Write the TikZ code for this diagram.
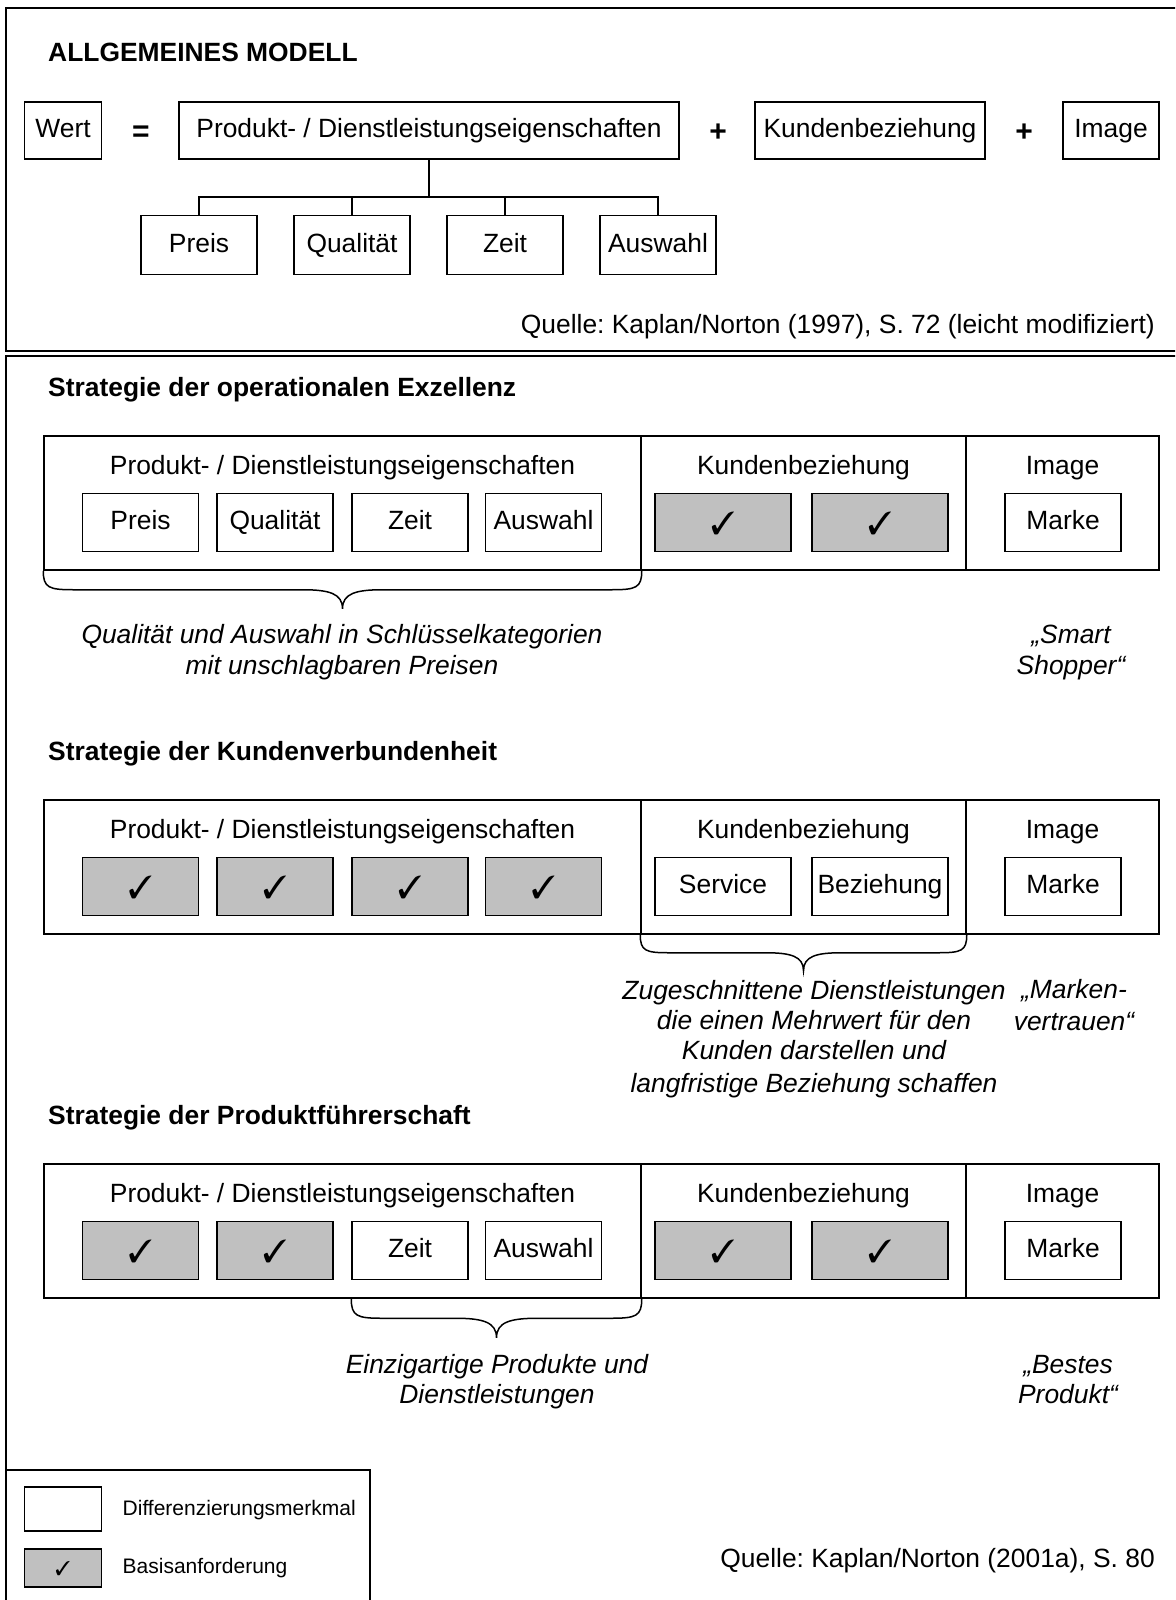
\documentclass[tikz,border=0pt]{standalone}
\usepackage{fontspec}
\usepackage{pifont}
\setmainfont{Liberation Sans}
\usetikzlibrary{calc}
\frenchspacing

\definecolor{basisgray}{RGB}{192,192,192}
\newcommand\bodysize{\fontsize{26.4}{31.5}\selectfont}
\newcommand\legendsize{\fontsize{21}{25}\selectfont}
\newcommand\tick{{\fontsize{32}{32}\selectfont\ding{51}}}
\newcommand\smalltick{{\fontsize{20}{20}\selectfont\ding{51}}}

% curly brace hanging below a horizontal edge: #1 left end, #2 right end, #3 depth
\newcommand\curlybrace[3]{%
  \draw[ln] let \p1=(#1), \p2=(#2), \p3=($(#1)!0.5!(#2)$) in
    (\p1) .. controls (\x1,\y1-0.45*#3) and (\x1+0.15*#3,\y1-0.5*#3) .. (\x1+0.8*#3,\y1-0.5*#3)
    -- (\x3-1.05*#3,\y1-0.5*#3)
    .. controls (\x3-0.35*#3,\y1-0.5*#3) and (\x3,\y1-0.6*#3) .. (\x3,\y1-#3)
    .. controls (\x3,\y1-0.6*#3) and (\x3+0.35*#3,\y1-0.5*#3) .. (\x3+1.05*#3,\y1-0.5*#3)
    -- (\x2-0.8*#3,\y1-0.5*#3)
    .. controls (\x2-0.15*#3,\y1-0.5*#3) and (\x2,\y1-0.45*#3) .. (\p2);
}

\tikzset{
  every node/.style={font=\bodysize, inner sep=0pt},
  ln/.style={line width=1.5pt},
  cell/.style={draw, ln, fill=white, minimum height=58pt, text height=19pt, text depth=5pt},
  gcell/.style={cell, fill=basisgray, text height=23pt, text depth=0pt},
  colbox/.style={draw, ln, minimum height=134pt},
  heading/.style={font=\bodysize\bfseries, anchor=base west},
  lbl/.style={anchor=base},
  op/.style={font=\fontsize{30}{30}\selectfont\bfseries},
  remark/.style={font=\bodysize\itshape, anchor=base},
  legendtext/.style={font=\legendsize, anchor=base west},
}

\begin{document}
\begin{tikzpicture}[x=1pt, y=-1pt]
\useasboundingbox (0,0) rectangle (1175,1600);
\clip (0,0) rectangle (1175,1600);
\fill[white] (0,0) rectangle (1175,1600);

% outer frames
\draw[ln] (6,8) rectangle (1200,351);
\draw[ln] (6,356) rectangle (1200,1650);

% ---------- general model ----------
\node[heading] (title) at (48,62) {ALLGEMEINES MODELL};

\node[cell, minimum width=77pt, minimum height=57pt] (wert) at (63,130.5) {Wert};
\node[op] (eq) at (141,134) {=};
\node[cell, minimum width=500pt, minimum height=57pt] (pd) at (429,130.5) {Produkt- / Dienstleistungseigenschaften};
\node[op] (plus1) at (718,133) {+};
\node[cell, minimum width=230pt, minimum height=57pt] (kb) at (870,130.5) {Kundenbeziehung};
\node[op] (plus2) at (1024,133) {+};
\node[cell, minimum width=96pt, minimum height=57pt] (img) at (1111,130.5) {Image};

\node[cell, minimum width=116pt, minimum height=59pt] (preis) at (199,245) {Preis};
\node[cell, minimum width=116pt, minimum height=59pt] (qual) at (352,245) {Qualität};
\node[cell, minimum width=116pt, minimum height=59pt] (zeit) at (505,245) {Zeit};
\node[cell, minimum width=116pt, minimum height=59pt] (ausw) at (658,245) {Auswahl};

\coordinate (bus) at (429,197);
\draw[ln] (pd.south) -- (bus);
\draw[ln] (preis.north) |- (bus) -| (ausw.north);
\draw[ln] (qual.north) -- (qual.north |- bus);
\draw[ln] (zeit.north) -- (zeit.north |- bus);

\node[anchor=base east] (src1) at (1155,333) {Quelle: Kaplan/Norton (1997), S. 72 (leicht modifiziert)};

% ---------- operational excellence ----------
\node[heading] (a-title) at (48,396) {Strategie der operationalen Exzellenz};
\node[colbox, minimum width=597pt] (a-pd) at (342.5,503) {};
\node[colbox, minimum width=325pt] (a-kb) at (803.5,503) {};
\node[colbox, minimum width=193pt] (a-im) at (1062.5,503) {};
\node[lbl] (a-pdh) at (342.5,474) {Produkt- / Dienstleistungseigenschaften};
\node[lbl] (a-kbh) at (803.5,474) {Kundenbeziehung};
\node[lbl] (a-imh) at (1062.5,474) {Image};
\node[cell, minimum width=116pt] (a-preis) at (140.5,522.5) {Preis};
\node[cell, minimum width=116pt] (a-qual) at (275,522.5) {Qualität};
\node[cell, minimum width=116pt] (a-zeit) at (410,522.5) {Zeit};
\node[cell, minimum width=116pt] (a-ausw) at (543.5,522.5) {Auswahl};
\node[gcell, minimum width=136pt] (a-k1) at (723,522.5) {\tick};
\node[gcell, minimum width=136pt] (a-k2) at (880,522.5) {\tick};
\node[cell, minimum width=116pt] (a-marke) at (1063,522.5) {Marke};
\curlybrace{a-pd.south west}{a-pd.south east}{38pt}
\node[remark] (a-n1) at (342,643) {Qualität und Auswahl in Schlüsselkategorien};
\node[remark] (a-n2) at (342,674.5) {mit unschlagbaren Preisen};
\node[remark] (a-q1) at (1071,643) {„Smart};
\node[remark] (a-q2) at (1071,674.5) {Shopper“};

% ---------- customer intimacy ----------
\begin{scope}[shift={(0,364)}]
\node[heading] (b-title) at (48,396) {Strategie der Kundenverbundenheit};
\node[colbox, minimum width=597pt] (b-pd) at (342.5,503) {};
\node[colbox, minimum width=325pt] (b-kb) at (803.5,503) {};
\node[colbox, minimum width=193pt] (b-im) at (1062.5,503) {};
\node[lbl] (b-pdh) at (342.5,474) {Produkt- / Dienstleistungseigenschaften};
\node[lbl] (b-kbh) at (803.5,474) {Kundenbeziehung};
\node[lbl] (b-imh) at (1062.5,474) {Image};
\node[gcell, minimum width=116pt] (b-preis) at (140.5,522.5) {\tick};
\node[gcell, minimum width=116pt] (b-qual) at (275,522.5) {\tick};
\node[gcell, minimum width=116pt] (b-zeit) at (410,522.5) {\tick};
\node[gcell, minimum width=116pt] (b-ausw) at (543.5,522.5) {\tick};
\node[cell, minimum width=136pt] (b-serv) at (723,522.5) {Service};
\node[cell, minimum width=136pt] (b-bez) at (880,522.5) {Beziehung};
\node[cell, minimum width=116pt] (b-marke) at (1063,522.5) {Marke};
\curlybrace{b-kb.south west}{b-kb.south east}{36pt}
\node[remark] (b-n1) at (814,635) {Zugeschnittene Dienstleistungen};
\node[remark] (b-n2) at (814,665) {die einen Mehrwert für den};
\node[remark] (b-n3) at (814,695) {Kunden darstellen und};
\node[remark] (b-n4) at (814,728) {langfristige Beziehung schaffen};
\node[remark] (b-q1) at (1074,634) {„Marken-};
\node[remark] (b-q2) at (1074,666) {vertrauen“};
\end{scope}

% ---------- product leadership ----------
\begin{scope}[shift={(0,728)}]
\node[heading] (c-title) at (48,396) {Strategie der Produktführerschaft};
\node[colbox, minimum width=597pt] (c-pd) at (342.5,503) {};
\node[colbox, minimum width=325pt] (c-kb) at (803.5,503) {};
\node[colbox, minimum width=193pt] (c-im) at (1062.5,503) {};
\node[lbl] (c-pdh) at (342.5,474) {Produkt- / Dienstleistungseigenschaften};
\node[lbl] (c-kbh) at (803.5,474) {Kundenbeziehung};
\node[lbl] (c-imh) at (1062.5,474) {Image};
\node[gcell, minimum width=116pt] (c-preis) at (140.5,522.5) {\tick};
\node[gcell, minimum width=116pt] (c-qual) at (275,522.5) {\tick};
\node[cell, minimum width=116pt] (c-zeit) at (410,522.5) {Zeit};
\node[cell, minimum width=116pt] (c-ausw) at (543.5,522.5) {Auswahl};
\node[gcell, minimum width=136pt] (c-k1) at (723,522.5) {\tick};
\node[gcell, minimum width=136pt] (c-k2) at (880,522.5) {\tick};
\node[cell, minimum width=116pt] (c-marke) at (1063,522.5) {Marke};
\coordinate (c-bl) at (c-zeit.west |- c-pd.south);
\curlybrace{c-bl}{c-pd.south east}{39pt}
\node[remark] (c-n1) at (497,645) {Einzigartige Produkte und};
\node[remark] (c-n2) at (497,675.5) {Dienstleistungen};
\node[remark] (c-q1) at (1068,645) {„Bestes};
\node[remark] (c-q2) at (1068,675.5) {Produkt“};
\end{scope}

% ---------- legend ----------
\draw[ln] (6,1470) rectangle (370,1650);
\node[cell, minimum width=77pt, minimum height=44pt] (lg-diff) at (63,1509) {};
\node[gcell, minimum width=77pt, minimum height=38pt, text height=14pt] (lg-basis) at (63,1568) {\smalltick};
\node[legendtext] (lg-difft) at (122.5,1515) {Differenzierungsmerkmal};
\node[legendtext] (lg-basist) at (122.5,1573) {Basisanforderung};

\node[anchor=base east] (src2) at (1155,1567) {Quelle: Kaplan/Norton (2001a), S. 80};
\end{tikzpicture}
\end{document}
